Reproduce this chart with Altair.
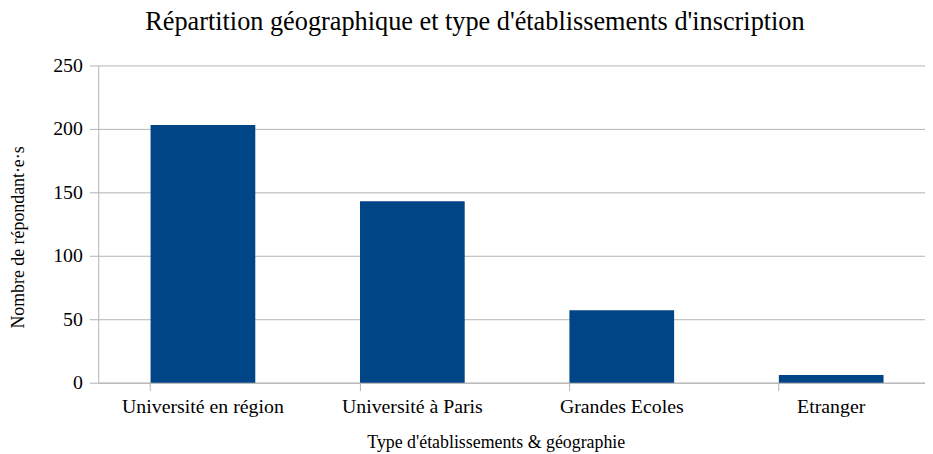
import altair as alt
import pandas as pd

categories = ["Université en région", "Université à Paris", "Grandes Ecoles", "Etranger"]
values = [203, 143, 57, 6]

df = pd.DataFrame({"cat": categories, "n": values})

FONT = "Liberation Serif"
GRID = "#b3b3b3"

chart = alt.Chart(df).mark_bar(color="#004586").encode(
    x=alt.X("cat:N", sort=categories,
            title="Type d'établissements & géographie",
            scale=alt.Scale(range=[0, 845], paddingInner=0.5, paddingOuter=0.25),
            axis=alt.Axis(labelAngle=0, labelFont=FONT, labelFontSize=20, labelColor="#000000",
                          labelBaseline="middle", labelPadding=16, tickSize=8, tickColor=GRID,
                          domainColor=GRID, bandPosition=0, grid=False,
                          titleFont=FONT, titleFontSize=18, titleFontWeight="normal", titleColor="#000000",
                          titleX=401, titleY=65, titleAlign="center", titleBaseline="alphabetic")),
    y=alt.Y("n:Q", title="Nombre de répondant·e·s",
            scale=alt.Scale(domain=[0, 250], nice=False),
            axis=alt.Axis(values=[0, 50, 100, 150, 200, 250], labelFont=FONT, labelFontSize=20,
                          labelColor="#000000", labelPadding=7, tickSize=9, tickColor=GRID,
                          domainColor=GRID, gridColor=GRID, grid=True,
                          titleFont=FONT, titleFontSize=18, titleFontWeight="normal", titleColor="#000000",
                          titleX=-80, titleY=173, titleAngle=-90, titleAlign="center",
                          titleBaseline="middle")),
).properties(
    width=834,
    height=320,
    title=alt.TitleParams("Répartition géographique et type d'établissements d'inscription",
                          font=FONT, fontSize=26.5, fontWeight="normal", color="#000000",
                          anchor="middle", dx=-37, offset=-1, baseline="alphabetic"),
    autosize=alt.AutoSizeParams(type="none"),
    padding={"left": 91, "top": 56, "right": 0, "bottom": 70},
).configure_view(stroke=None)

chart.save("out.html", embed_options={"renderer": "svg", "actions": False})
